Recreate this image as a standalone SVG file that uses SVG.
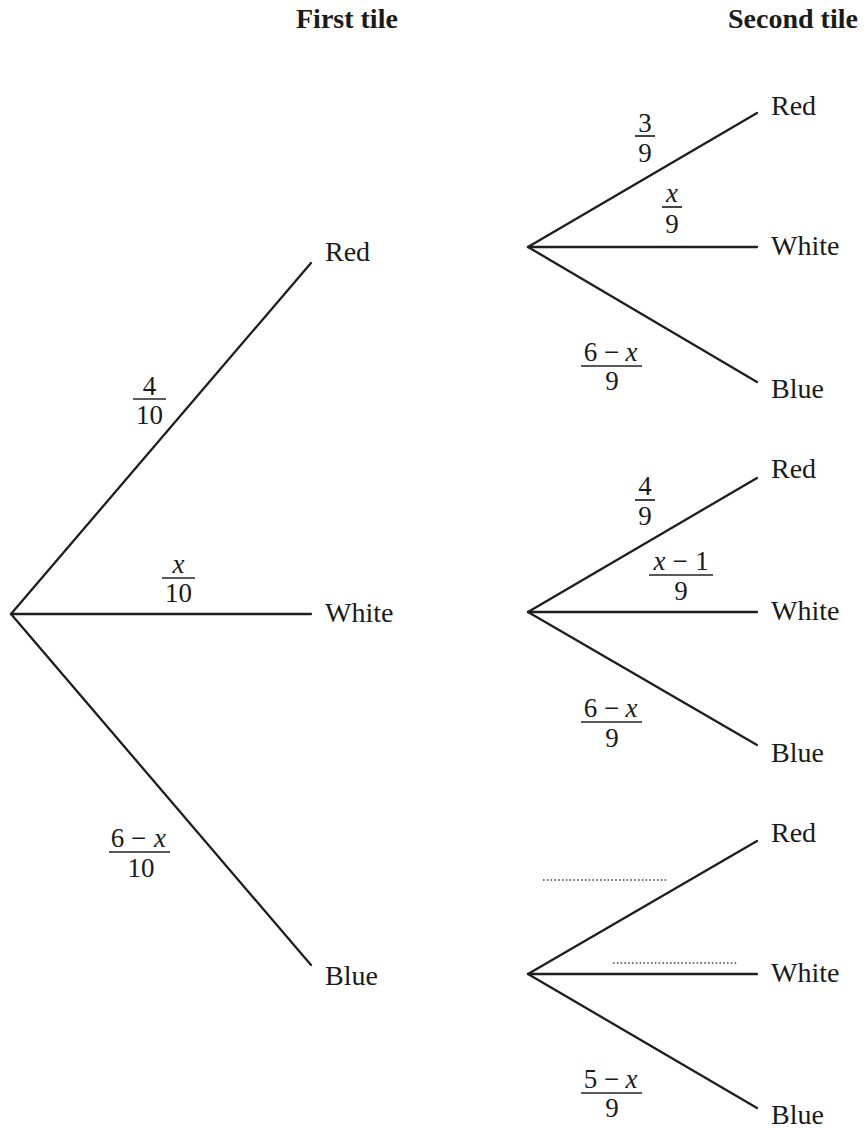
<svg xmlns="http://www.w3.org/2000/svg" width="864" height="1128" viewBox="0 0 864 1128">
<style>
  .lbl{font-family:"Liberation Serif","Times New Roman",serif;font-size:28px;fill:#1a1a1a}
  .hdr{font-family:"Liberation Serif","Times New Roman",serif;font-size:28px;font-weight:bold;fill:#1a1a1a}
  .fr{font-family:"Liberation Serif","Times New Roman",serif;font-size:27px;fill:#1a1a1a;text-anchor:middle}
  .it{font-style:italic}
  .br{stroke:#1e1e1e;stroke-width:2.3;fill:none;stroke-linecap:round}
  .bar{stroke:#222;stroke-width:1.7}
  .dot{stroke:#444;stroke-width:1.3;stroke-dasharray:1.6 2.2}
</style>
<rect width="864" height="1128" fill="#fff"/>
<g id="headers">
  <text class="hdr" x="296" y="28">First tile</text>
  <text class="hdr" x="728" y="28">Second tile</text>
</g>
<g id="connectors">
  <line class="br" x1="11" y1="614" x2="311" y2="263"/>
  <line class="br" x1="11" y1="614" x2="311" y2="614"/>
  <line class="br" x1="11" y1="614" x2="311" y2="965"/>
  <line class="br" x1="528" y1="247" x2="757" y2="113"/>
  <line class="br" x1="528" y1="247" x2="757" y2="247"/>
  <line class="br" x1="528" y1="247" x2="757" y2="382"/>
  <line class="br" x1="528" y1="612" x2="757" y2="478"/>
  <line class="br" x1="528" y1="612" x2="757" y2="612"/>
  <line class="br" x1="528" y1="612" x2="757" y2="745"/>
  <line class="br" x1="528" y1="974" x2="757" y2="841"/>
  <line class="br" x1="528" y1="974" x2="757" y2="974"/>
  <line class="br" x1="528" y1="974" x2="757" y2="1108"/>
</g>
<g id="first-red"><text class="lbl" x="325" y="261">Red</text></g>
<g id="first-white"><text class="lbl" x="325" y="622">White</text></g>
<g id="first-blue"><text class="lbl" x="325" y="985">Blue</text></g>
<g id="r-red"><text class="lbl" x="771" y="115">Red</text></g>
<g id="r-white"><text class="lbl" x="771" y="255">White</text></g>
<g id="r-blue"><text class="lbl" x="771" y="398">Blue</text></g>
<g id="w-red"><text class="lbl" x="771" y="478">Red</text></g>
<g id="w-white"><text class="lbl" x="771" y="620">White</text></g>
<g id="w-blue"><text class="lbl" x="771" y="762">Blue</text></g>
<g id="b-red"><text class="lbl" x="771" y="842">Red</text></g>
<g id="b-white"><text class="lbl" x="771" y="982">White</text></g>
<g id="b-blue"><text class="lbl" x="771" y="1124">Blue</text></g>
<g id="labels">
  <!-- 4/10 -->
  <text class="fr" x="149.5" y="395">4</text>
  <line class="bar" x1="133" y1="399" x2="166" y2="399"/>
  <text class="fr" x="149.5" y="424">10</text>
  <!-- x/10 -->
  <text class="fr it" x="178.5" y="573">x</text>
  <line class="bar" x1="162" y1="578" x2="195" y2="578"/>
  <text class="fr" x="178.5" y="602">10</text>
  <!-- 6-x/10 -->
  <text class="fr" y="847"><tspan x="117.5">6</tspan><tspan x="138.5">−</tspan><tspan x="160" class="it">x</tspan></text>
  <line class="bar" x1="109" y1="852" x2="170" y2="852"/>
  <text class="fr" x="141" y="877">10</text>
  <!-- 3/9 -->
  <text class="fr" x="645" y="132">3</text>
  <line class="bar" x1="635" y1="136" x2="655" y2="136"/>
  <text class="fr" x="645" y="162">9</text>
  <!-- x/9 -->
  <text class="fr it" x="672" y="202">x</text>
  <line class="bar" x1="662" y1="207" x2="682" y2="207"/>
  <text class="fr" x="672" y="233">9</text>
  <!-- 6-x/9 (1) -->
  <text class="fr" y="361"><tspan x="590.5">6</tspan><tspan x="611.5">−</tspan><tspan x="631.5" class="it">x</tspan></text>
  <line class="bar" x1="581" y1="366" x2="642" y2="366"/>
  <text class="fr" x="612" y="390">9</text>
  <!-- 4/9 -->
  <text class="fr" x="645" y="495">4</text>
  <line class="bar" x1="635" y1="500" x2="655" y2="500"/>
  <text class="fr" x="645" y="525">9</text>
  <!-- x-1/9 -->
  <text class="fr" y="570"><tspan x="659.5" class="it">x</tspan><tspan x="680">−</tspan><tspan x="702">1</tspan></text>
  <line class="bar" x1="649" y1="575" x2="713" y2="575"/>
  <text class="fr" x="681" y="600">9</text>
  <!-- 6-x/9 (2) -->
  <text class="fr" y="717"><tspan x="590.5">6</tspan><tspan x="611.5">−</tspan><tspan x="631.5" class="it">x</tspan></text>
  <line class="bar" x1="581" y1="722" x2="642" y2="722"/>
  <text class="fr" x="612" y="747">9</text>
  <!-- dotted blanks -->
  <line class="dot" x1="543" y1="880" x2="668" y2="880"/>
  <line class="dot" x1="613" y1="963" x2="738" y2="963"/>
  <!-- 5-x/9 -->
  <text class="fr" y="1088"><tspan x="590.5">5</tspan><tspan x="611.5">−</tspan><tspan x="631.5" class="it">x</tspan></text>
  <line class="bar" x1="581" y1="1093" x2="642" y2="1093"/>
  <text class="fr" x="612" y="1117">9</text>
</g>
</svg>
